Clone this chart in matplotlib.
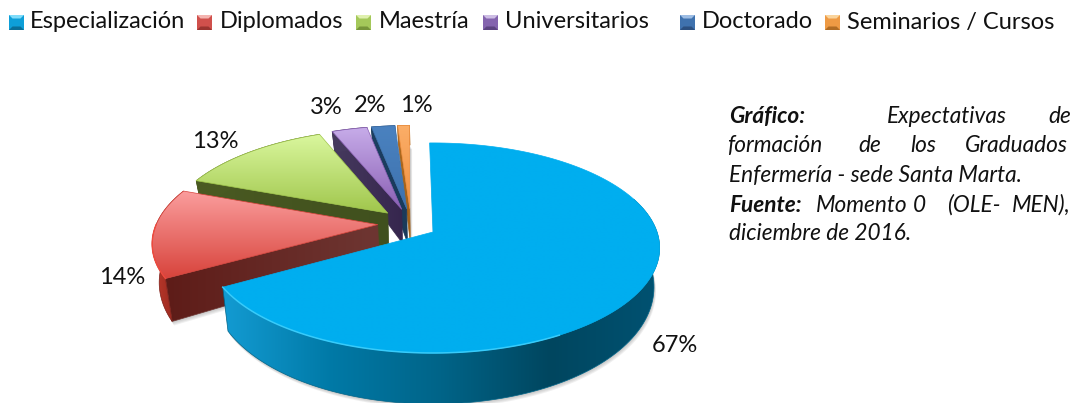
import numpy as np
import matplotlib
matplotlib.use("Agg")
import matplotlib.pyplot as plt
from matplotlib.colors import LinearSegmentedColormap
from matplotlib.patches import Polygon

categories = ["Especialización", "Diplomados", "Maestría", "Universitarios", "Doctorado", "Seminarios / Cursos"]
values = [67, 14, 13, 3, 2, 1]
value_labels = ["67%", "14%", "13%", "3%", "2%", "1%"]

caption_bold_1 = "Gráfico:"
caption_line_1 = ["Expectativas", "de"]
caption_line_2 = ["formación", "de", "los", "Graduados"]
caption_line_3 = "Enfermería - sede Santa Marta."
caption_bold_4 = "Fuente:"
caption_line_4 = ["Momento", "0", "(OLE-", "MEN),"]
caption_line_5 = "diciembre de 2016."

# styles
TOP = [["#00AEEF", "#00AEEF"], ["#FB9E9E", "#D8443C"], ["#DAF79E", "#A0C64C"],
       ["#C8ADEA", "#8A60B4"], ["#4A82C0", "#3E72AE"], ["#FBAE68", "#F09040"]]
RADIAL = [["#004A66", "#004A66"], ["#5E1C18", "#6E3632"], ["#4A5A22", "#40501E"],
          ["#463A5E", "#36264E"], ["#1C3E60", "#1A3A5A"], ["#B06A20", "#A06018"]]
ARC = [["#139BD2", "#0079A6", "#006488", "#00465F", "#005272"], ["#C03A2C", "#7E1F18"],
       ["#4A5A22", "#4A5A22"], ["#463A5E", "#463A5E"], ["#1C3E60", "#1C3E60"], ["#B06A20", "#B06A20"]]
LEG_BASE = ["#0E9FD8", "#D0504C", "#A4C85A", "#8464AE", "#3F72AE", "#EE9A44"]
LEG_LIGHT = ["#7FDCFA", "#F4B4B0", "#DFF0AE", "#CDBDE4", "#9DBDE4", "#FAD49C"]
LEG_DARK = ["#0A6F98", "#9A3430", "#76953A", "#5C4480", "#2C5080", "#B06C24"]
LEG_ICON_X = [9, 197, 356, 483, 680, 825]
LEG_TEXT_X = [30, 220, 379, 505, 702, 847]
LABEL_XY = [(675, 345), (122, 277), (215, 142), (326, 108), (370, 106), (416, 105)]
FONT = "Lato"
FS = 17.0
FS_CAP = 16.3

# projection of the tilted pie
KP, AX, BX, X0, Y0 = 0.152, 224.0, 102.6, 433.0, 232.0
EXPLODE, C0 = 0.15, (-0.10, 0.085)
START = np.radians(-1.0)


def proj(s, w):
    den = 1 + KP * w
    return X0 + AX * s / den, Y0 - BX * w / den


def proj_bottom(s, w):
    x, y = proj(s, w)
    return X0 + (x - X0) * 0.975, y + (37 - 14 * w)


fig = plt.figure(figsize=(10.73, 4.03), dpi=100)
ax = fig.add_axes([0, 0, 1, 1])
z = [1]


def nextz():
    z[0] += 1
    return z[0]


def grad(xy, stops, horizontal=False):
    xy = np.asarray(xy)
    x0, x1 = xy[:, 0].min(), xy[:, 0].max()
    y0, y1 = xy[:, 1].min(), xy[:, 1].max()
    if x1 - x0 < 0.5 or y1 - y0 < 0.5:
        return
    cmap = LinearSegmentedColormap.from_list("g", stops)
    t = np.linspace(0, 1, 256)
    arr = t[None, :] if horizontal else t[:, None]
    zz = nextz()
    im = ax.imshow(arr, extent=(x0, x1, y1, y0), cmap=cmap, aspect="auto",
                   interpolation="bilinear", zorder=zz)
    poly = Polygon(xy, closed=True, transform=ax.transData, fc="none", ec="none")
    im.set_clip_path(poly)
    ax.add_patch(Polygon(xy, closed=True, fc="none", ec=stops[len(stops) // 2], lw=0.5, zorder=zz))


fracs = np.array(values, float) / sum(values)
edges = np.concatenate([[0], np.cumsum(fracs)]) * 2 * np.pi + START

# back to front: last category first, main slice last
for i in range(len(values) - 1, -1, -1):
    a0, a1 = edges[i], edges[i + 1]
    if i == 0:
        oxs, oxw = 0.0, 0.0
    else:
        am = (a0 + a1) / 2
        oxs = C0[0] + EXPLODE * np.sin(am)
        oxw = C0[1] + EXPLODE * np.cos(am)
    th = np.linspace(a0, a1, 160)
    s, w = oxs + np.sin(th), oxw + np.cos(th)
    tx, ty = proj(s, w)
    bx, by = proj_bottom(s, w)
    ax_, ay_ = proj(oxs, oxw)
    abx, aby = proj_bottom(oxs, oxw)

    # soft shadow
    for off in (4, 3, 2, 1):
        sh = np.column_stack([np.r_[bx, abx] + off * 0.5, np.r_[by, aby] + off])
        ax.add_patch(Polygon(sh, closed=True, fc="#555555", ec="none", alpha=0.09, zorder=nextz()))

    # straight wall along the first radial edge (not for the main slice)
    if i != 0:
        wall = [(ax_, ay_), (tx[0], ty[0]), (bx[0], by[0]), (abx, aby)]
        grad(wall, RADIAL[i], horizontal=True)

    # curved outer wall
    if i == 0:
        keep = th > np.radians(70)
        wall = np.column_stack([np.r_[tx[keep], bx[keep][::-1]], np.r_[ty[keep], by[keep][::-1]]])
        grad(wall, ARC[0][::-1][::-1], horizontal=True)
    else:
        wall = np.column_stack([np.r_[tx, bx[::-1]], np.r_[ty, by[::-1]]])
        grad(wall, ARC[i], horizontal=True)

    # top face
    top = np.column_stack([np.r_[ax_, tx], np.r_[ay_, ty]])
    grad(top, TOP[i])
    if i == 0:
        m = (th > np.radians(150))
        ax.plot(tx[m], ty[m], color="#38CBFA", lw=1.1, zorder=nextz())
    if i == 1:
        m = (th < a0 + np.radians(30))
        ax.plot(tx[m], ty[m], color="#EE4A3E", lw=1.0, zorder=nextz())

# value labels
for (x, y), lab in zip(LABEL_XY, value_labels):
    ax.text(x, y, lab, fontsize=FS, family=FONT, ha="center", va="center", color="#111111", zorder=500)

# legend
SZ = 15
for i, name in enumerate(categories):
    x, y = LEG_ICON_X[i], 15
    b = 3.5
    zz = nextz() + 500
    ax.add_patch(Polygon([(x, y), (x + SZ, y), (x + SZ, y + SZ), (x, y + SZ)], fc=LEG_BASE[i], ec="none", zorder=zz))
    ax.add_patch(Polygon([(x, y), (x + SZ, y), (x + SZ - b, y + b), (x + b, y + b)], fc=LEG_LIGHT[i], ec="none", zorder=zz + 1))
    ax.add_patch(Polygon([(x, y + SZ), (x + SZ, y + SZ), (x + SZ - b, y + SZ - b), (x + b, y + SZ - b)], fc=LEG_DARK[i], ec="none", zorder=zz + 1))
    ax.text(LEG_TEXT_X[i], 22, name, fontsize=FS, family=FONT, ha="left", va="center", color="#111111", zorder=zz + 2)


def cap(x, y, txt, bold=False):
    ax.text(x, y, txt, fontsize=FS_CAP, family=FONT, style="italic",
            weight="bold" if bold else "normal", ha="left", va="baseline", color="#111111", zorder=8000)


cap(729, 123, caption_bold_1, True)
for x, t in zip([887, 1048], caption_line_1):
    cap(x, 123, t)
for x, t in zip([727, 858, 910, 965], caption_line_2):
    cap(x, 152, t)
cap(729, 182, caption_line_3)
cap(729, 212, caption_bold_4, True)
for x, t in zip([816, 913, 947, 1012], caption_line_4):
    cap(x, 212, t)
cap(729, 240, caption_line_5)

ax.set_xlim(0, 1073)
ax.set_ylim(403, 0)
ax.axis("off")
fig.savefig("out.png", dpi=100, facecolor="white")
